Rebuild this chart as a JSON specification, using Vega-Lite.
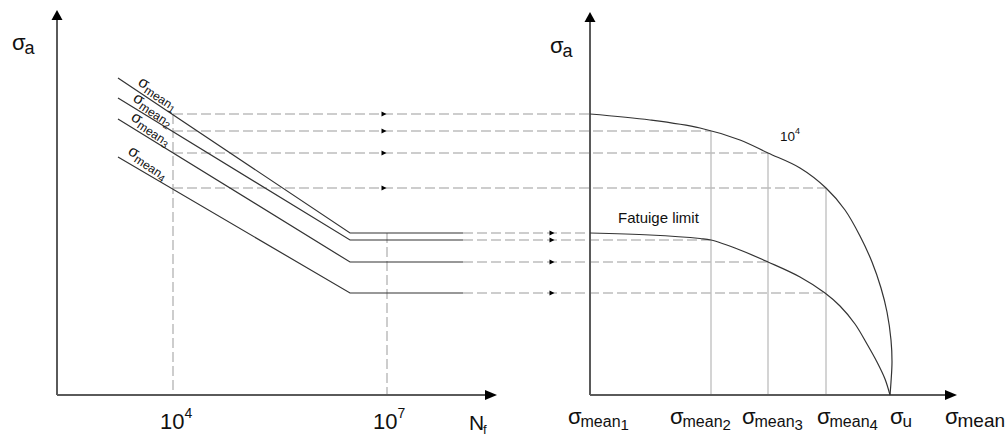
{
  "$schema": "https://vega.github.io/schema/vega-lite/v6.json",
  "width": 1007,
  "height": 437,
  "autosize": {"type": "none"},
  "padding": 0,
  "background": "white",
  "config": {"view": {"stroke": null}, "text": {"font": "Liberation Sans", "color": "#111111"}},
  "datasets": {
    "axes": [
      {"x": 57, "y": 42, "x2": 57, "y2": 417},
      {"x": 57, "y": 42, "x2": 487, "y2": 42},
      {"x": 590, "y": 42, "x2": 590, "y2": 415},
      {"x": 590, "y": 42, "x2": 947, "y2": 42}
    ],
    "headsUp": [{"x": 57, "y": 422}, {"x": 590, "y": 420}],
    "headsRight": [{"x": 491, "y": 42}, {"x": 951, "y": 42}],
    "smallArrows": [
      {"x": 384, "y": 323}, {"x": 384, "y": 306}, {"x": 384, "y": 284}, {"x": 384, "y": 249},
      {"x": 552, "y": 204}, {"x": 552, "y": 197}, {"x": 552, "y": 175}, {"x": 552, "y": 144}
    ],
    "dashed": [
      {"x": 173, "y": 323, "x2": 590, "y2": 323},
      {"x": 173, "y": 306, "x2": 711, "y2": 306},
      {"x": 173, "y": 284, "x2": 768, "y2": 284},
      {"x": 173, "y": 249, "x2": 826, "y2": 249},
      {"x": 463, "y": 204, "x2": 590, "y2": 204},
      {"x": 463, "y": 197, "x2": 711, "y2": 197},
      {"x": 463, "y": 175, "x2": 768, "y2": 175},
      {"x": 463, "y": 144, "x2": 826, "y2": 144},
      {"x": 173, "y": 323, "x2": 173, "y2": 42},
      {"x": 387, "y": 204, "x2": 387, "y2": 42}
    ],
    "grid": [
      {"x": 711, "y": 306, "x2": 711, "y2": 42},
      {"x": 768, "y": 284, "x2": 768, "y2": 42},
      {"x": 826, "y": 249, "x2": 826, "y2": 42}
    ],
    "sn": [
      {"s": "1", "o": 0, "x": 118, "y": 359}, {"s": "1", "o": 1, "x": 350, "y": 204}, {"s": "1", "o": 2, "x": 463, "y": 204},
      {"s": "2", "o": 0, "x": 118, "y": 339}, {"s": "2", "o": 1, "x": 350, "y": 197}, {"s": "2", "o": 2, "x": 463, "y": 197},
      {"s": "3", "o": 0, "x": 118, "y": 318}, {"s": "3", "o": 1, "x": 350, "y": 175}, {"s": "3", "o": 2, "x": 463, "y": 175},
      {"s": "4", "o": 0, "x": 118, "y": 280}, {"s": "4", "o": 1, "x": 350, "y": 144}, {"s": "4", "o": 2, "x": 463, "y": 144}
    ],
    "curves": [
      {"c": "u", "o": 0, "x": 590, "y": 323},
      {"c": "u", "o": 1, "x": 650, "y": 317},
      {"c": "u", "o": 2, "x": 700, "y": 309},
      {"c": "u", "o": 3, "x": 740, "y": 297},
      {"c": "u", "o": 4, "x": 768, "y": 284},
      {"c": "u", "o": 5, "x": 800, "y": 269},
      {"c": "u", "o": 6, "x": 826, "y": 249},
      {"c": "u", "o": 7, "x": 845, "y": 227},
      {"c": "u", "o": 8, "x": 860, "y": 201},
      {"c": "u", "o": 9, "x": 872, "y": 175},
      {"c": "u", "o": 10, "x": 881, "y": 149},
      {"c": "u", "o": 11, "x": 887, "y": 125},
      {"c": "u", "o": 12, "x": 891, "y": 97},
      {"c": "u", "o": 13, "x": 892, "y": 75},
      {"c": "u", "o": 14, "x": 891, "y": 55},
      {"c": "u", "o": 15, "x": 890, "y": 42},
      {"c": "l", "o": 0, "x": 590, "y": 204},
      {"c": "l", "o": 1, "x": 650, "y": 202},
      {"c": "l", "o": 2, "x": 700, "y": 198.5},
      {"c": "l", "o": 3, "x": 711, "y": 197},
      {"c": "l", "o": 4, "x": 740, "y": 187},
      {"c": "l", "o": 5, "x": 768, "y": 175},
      {"c": "l", "o": 6, "x": 800, "y": 160},
      {"c": "l", "o": 7, "x": 825, "y": 144},
      {"c": "l", "o": 8, "x": 840, "y": 131},
      {"c": "l", "o": 9, "x": 855, "y": 113},
      {"c": "l", "o": 10, "x": 867, "y": 93},
      {"c": "l", "o": 11, "x": 877, "y": 75},
      {"c": "l", "o": 12, "x": 885, "y": 58},
      {"c": "l", "o": 13, "x": 890, "y": 42}
    ],
    "rlabels": [
      {"x": 137, "y": 352.5, "n": "1"},
      {"x": 132, "y": 336.5, "n": "2"},
      {"x": 130, "y": 317.5, "n": "3"},
      {"x": 127, "y": 283.5, "n": "4"}
    ],
    "blabels": [
      {"x": 568, "y": 13, "n": "1"},
      {"x": 670, "y": 13, "n": "2"},
      {"x": 742, "y": 13, "n": "3"},
      {"x": 817, "y": 13, "n": "4"}
    ],
    "sigmaU": [{"x": 890, "y": 13}],
    "sigmaAxis": [{"x": 945, "y": 13}],
    "sigmaA": [{"x": 12, "y": 387}, {"x": 550, "y": 384}],
    "tens": [{"x": 160, "y": 8, "e": "4"}, {"x": 373, "y": 8, "e": "7"}],
    "tenUpper": [{"x": 780, "y": 296, "e": "4"}],
    "nf": [{"x": 469, "y": 7}],
    "fatigue": [{"x": 618, "y": 214, "t": "Fatuige limit"}]
  },
  "encoding": {
    "x": {"field": "x", "type": "quantitative", "scale": {"domain": [0, 1007], "nice": false, "zero": false}, "axis": null},
    "y": {"field": "y", "type": "quantitative", "scale": {"domain": [0, 437], "nice": false, "zero": false}, "axis": null}
  },
  "layer": [
    {"data": {"name": "dashed"}, "mark": {"type": "rule", "color": "#bdbdbd", "strokeWidth": 1.5, "strokeDash": [10, 4]},
     "encoding": {"x2": {"field": "x2"}, "y2": {"field": "y2"}}},
    {"data": {"name": "grid"}, "mark": {"type": "rule", "color": "#bdbdbd", "strokeWidth": 1.3},
     "encoding": {"x2": {"field": "x2"}, "y2": {"field": "y2"}}},
    {"data": {"name": "axes"}, "mark": {"type": "rule", "color": "#5a5a5a", "strokeWidth": 2},
     "encoding": {"x2": {"field": "x2"}, "y2": {"field": "y2"}}},
    {"data": {"name": "sn"}, "mark": {"type": "line", "color": "#333333", "strokeWidth": 1.2},
     "encoding": {"detail": {"field": "s"}, "order": {"field": "o"}}},
    {"data": {"name": "curves"}, "mark": {"type": "line", "color": "#333333", "strokeWidth": 1.2, "interpolate": "catmull-rom"},
     "encoding": {"detail": {"field": "c"}, "order": {"field": "o"}}},
    {"data": {"name": "headsUp"}, "mark": {"type": "point", "shape": "M-1,0.9L0,-0.9L1,0.9Z", "size": 121, "filled": true, "color": "#000000", "opacity": 1, "strokeWidth": 0}},
    {"data": {"name": "headsRight"}, "mark": {"type": "point", "shape": "M-1,-0.83L1,0L-1,0.83Z", "size": 144, "filled": true, "color": "#000000", "opacity": 1, "strokeWidth": 0}},
    {"data": {"name": "smallArrows"}, "mark": {"type": "point", "shape": "M-1,-1L1,0L-1,1Z", "size": 25, "filled": true, "color": "#000000", "opacity": 1, "strokeWidth": 0}},
    {"data": {"name": "rlabels"}, "mark": {"type": "text", "align": "left", "baseline": "alphabetic", "angle": 33, "fontSize": 16},
     "encoding": {"text": {"value": "σ"}}},
    {"data": {"name": "rlabels"}, "mark": {"type": "text", "align": "left", "baseline": "alphabetic", "angle": 33, "fontSize": 12, "dx": 9.5, "dy": 3},
     "encoding": {"text": {"value": "mean"}}},
    {"data": {"name": "rlabels"}, "mark": {"type": "text", "align": "left", "baseline": "alphabetic", "angle": 33, "fontSize": 10, "dx": 39.5, "dy": 5.5},
     "encoding": {"text": {"field": "n"}}},
    {"data": {"name": "blabels"}, "mark": {"type": "text", "align": "left", "baseline": "alphabetic", "fontSize": 22},
     "encoding": {"text": {"value": "σ"}}},
    {"data": {"name": "blabels"}, "mark": {"type": "text", "align": "left", "baseline": "alphabetic", "fontSize": 16, "dx": 12.5, "dy": 3},
     "encoding": {"text": {"value": "mean"}}},
    {"data": {"name": "blabels"}, "mark": {"type": "text", "align": "left", "baseline": "alphabetic", "fontSize": 15, "dx": 52.5, "dy": 6},
     "encoding": {"text": {"field": "n"}}},
    {"data": {"name": "sigmaU"}, "mark": {"type": "text", "align": "left", "baseline": "alphabetic", "fontSize": 22},
     "encoding": {"text": {"value": "σ"}}},
    {"data": {"name": "sigmaU"}, "mark": {"type": "text", "align": "left", "baseline": "alphabetic", "fontSize": 17, "dx": 12.5, "dy": 3},
     "encoding": {"text": {"value": "u"}}},
    {"data": {"name": "sigmaAxis"}, "mark": {"type": "text", "align": "left", "baseline": "alphabetic", "fontSize": 22},
     "encoding": {"text": {"value": "σ"}}},
    {"data": {"name": "sigmaAxis"}, "mark": {"type": "text", "align": "left", "baseline": "alphabetic", "fontSize": 19, "dx": 12.5, "dy": 3},
     "encoding": {"text": {"value": "mean"}}},
    {"data": {"name": "sigmaA"}, "mark": {"type": "text", "align": "left", "baseline": "alphabetic", "fontSize": 22},
     "encoding": {"text": {"value": "σ"}}},
    {"data": {"name": "sigmaA"}, "mark": {"type": "text", "align": "left", "baseline": "alphabetic", "fontSize": 18, "dx": 12.5, "dy": 4},
     "encoding": {"text": {"value": "a"}}},
    {"data": {"name": "tens"}, "mark": {"type": "text", "align": "left", "baseline": "alphabetic", "fontSize": 22},
     "encoding": {"text": {"value": "10"}}},
    {"data": {"name": "tens"}, "mark": {"type": "text", "align": "left", "baseline": "alphabetic", "fontSize": 14, "dx": 24.5, "dy": -11},
     "encoding": {"text": {"field": "e"}}},
    {"data": {"name": "tenUpper"}, "mark": {"type": "text", "align": "left", "baseline": "alphabetic", "fontSize": 13.5},
     "encoding": {"text": {"value": "10"}}},
    {"data": {"name": "tenUpper"}, "mark": {"type": "text", "align": "left", "baseline": "alphabetic", "fontSize": 9, "dx": 15, "dy": -7},
     "encoding": {"text": {"field": "e"}}},
    {"data": {"name": "nf"}, "mark": {"type": "text", "align": "left", "baseline": "alphabetic", "fontSize": 21},
     "encoding": {"text": {"value": "N"}}},
    {"data": {"name": "nf"}, "mark": {"type": "text", "align": "left", "baseline": "alphabetic", "fontSize": 13, "dx": 14, "dy": 4},
     "encoding": {"text": {"value": "f"}}},
    {"data": {"name": "fatigue"}, "mark": {"type": "text", "align": "left", "baseline": "alphabetic", "fontSize": 15},
     "encoding": {"text": {"field": "t"}}}
  ]
}
